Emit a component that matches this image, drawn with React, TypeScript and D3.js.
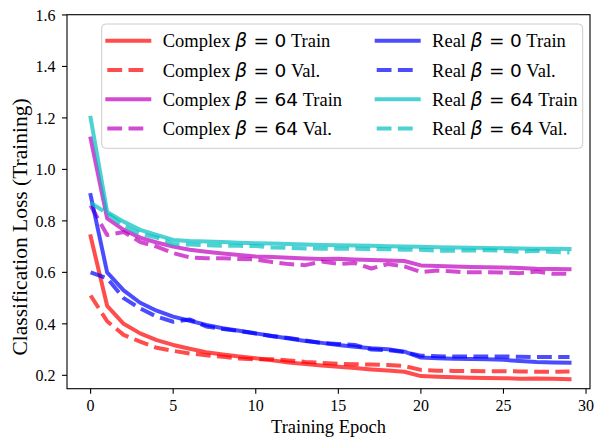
import React from "react";
import * as d3 from "d3";

const epochs = [0,1,2,3,4,5,6,7,8,9,10,11,12,13,14,15,16,17,18,19,20,21,22,23,24,25,26,27,28,29];

const complex0Train = [0.74,0.47,0.40,0.363,0.337,0.318,0.303,0.29,0.281,0.273,0.266,0.258,0.25,0.244,0.238,0.233,0.228,0.223,0.219,0.214,0.197,0.194,0.192,0.191,0.19,0.189,0.187,0.188,0.187,0.185];
const complex0Val = [0.51,0.41,0.357,0.331,0.307,0.295,0.285,0.278,0.272,0.265,0.262,0.262,0.258,0.252,0.248,0.245,0.243,0.242,0.24,0.236,0.221,0.218,0.217,0.217,0.216,0.216,0.215,0.214,0.214,0.215];
const complex64Train = [1.12,0.81,0.765,0.735,0.716,0.70,0.688,0.68,0.673,0.667,0.662,0.66,0.657,0.654,0.652,0.653,0.65,0.648,0.646,0.644,0.627,0.625,0.623,0.621,0.62,0.619,0.617,0.614,0.613,0.612];
const complex64Val = [0.86,0.745,0.757,0.718,0.70,0.675,0.658,0.655,0.655,0.652,0.65,0.64,0.632,0.628,0.642,0.633,0.636,0.615,0.632,0.623,0.601,0.607,0.603,0.6,0.601,0.599,0.597,0.603,0.595,0.594];
const real0Train = [0.90,0.60,0.53,0.482,0.451,0.428,0.412,0.396,0.383,0.373,0.363,0.353,0.343,0.333,0.326,0.318,0.311,0.305,0.301,0.292,0.269,0.266,0.264,0.263,0.262,0.26,0.256,0.252,0.25,0.249];
const real0Val = [0.60,0.577,0.50,0.46,0.428,0.408,0.417,0.39,0.38,0.372,0.362,0.352,0.345,0.335,0.325,0.322,0.318,0.30,0.298,0.29,0.276,0.274,0.273,0.273,0.273,0.273,0.272,0.271,0.271,0.271];
const real64Train = [1.20,0.835,0.797,0.765,0.745,0.726,0.722,0.72,0.718,0.715,0.713,0.712,0.71,0.708,0.706,0.705,0.704,0.703,0.701,0.70,0.699,0.698,0.697,0.696,0.695,0.694,0.693,0.692,0.692,0.691];
const real64Val = [0.87,0.83,0.78,0.75,0.735,0.71,0.708,0.705,0.703,0.703,0.702,0.697,0.695,0.693,0.692,0.692,0.692,0.691,0.69,0.688,0.688,0.684,0.684,0.685,0.686,0.684,0.68,0.684,0.679,0.677];

const seriesModels = ["Complex","Complex","Complex","Complex","Real","Real","Real","Real"];
const seriesBetas = ["0","0","64","64","0","0","64","64"];
const seriesSplits = ["Train","Val.","Train","Val.","Train","Val.","Train","Val."];
const seriesColors = ["#ff0000","#ff0000","#bf00bf","#bf00bf","#0000ff","#0000ff","#00bfbf","#00bfbf"];
const seriesValues = [complex0Train, complex0Val, complex64Train, complex64Val, real0Train, real0Val, real64Train, real64Val];

const xTicks = [0,5,10,15,20,25,30];
const yTicks = [0.2,0.4,0.6,0.8,1.0,1.2,1.4,1.6];

const W = 596, H = 439;
const L = 67, R = 590, T = 14.7, B = 388.7;
const serif = "'Liberation Serif', 'Times New Roman', serif";
const sans = "'DejaVu Sans', sans-serif";

export default function App() {
  const x = d3.scaleLinear().domain([-1.43, 30.24]).range([L, R]);
  const y = d3.scaleLinear().domain([0.148, 1.601]).range([B, T]);
  const line = d3.line<number>().x((_, i) => x(epochs[i])).y(d => y(d));

  const legX = [107.3, 376.7];
  const legY0 = 40.8, legDy = 29.2;

  return (
    <svg width={W} height={H} style={{ position: "absolute", left: 0, top: 0, background: "#fff" }}>
      <rect x={0} y={0} width={W} height={H} fill="#fff" />
      {seriesValues.map((vals, k) => {
        const dashed = seriesSplits[k] !== "Train";
        return (
          <path key={k} d={line(vals) || ""} fill="none" stroke={seriesColors[k]} strokeOpacity={0.7}
            strokeWidth={4} strokeLinejoin="round" strokeLinecap={dashed ? "butt" : "square"}
            strokeDasharray={dashed ? "14.8,6.4" : undefined} />
        );
      })}
      {/* axes frame */}
      <rect x={L} y={T} width={R - L} height={B - T} fill="none" stroke="#000" strokeWidth={1.1} />
      {xTicks.map(t => (
        <g key={"x" + t}>
          <line x1={x(t)} x2={x(t)} y1={B} y2={B + 5} stroke="#000" strokeWidth={1.1} />
          <text x={x(t)} y={410.5} textAnchor="middle" fontFamily={serif} fontSize={16}>{t}</text>
        </g>
      ))}
      {yTicks.map(t => (
        <g key={"y" + t}>
          <line x1={L - 5} x2={L} y1={y(t)} y2={y(t)} stroke="#000" strokeWidth={1.1} />
          <text x={55.5} y={y(t) + 6} textAnchor="end" fontFamily={serif} fontSize={16}>{t.toFixed(1)}</text>
        </g>
      ))}
      <text x={(L + R) / 2 + 0} y={433} textAnchor="middle" fontFamily={serif} fontSize={18.5}>Training Epoch</text>
      <text transform="translate(27,227) rotate(-90)" textAnchor="middle" fontFamily={serif} fontSize={21.5}>Classification Loss (Training)</text>
      {/* legend */}
      <rect x={101.7} y={24} width={481} height={124.3} rx={4} ry={4} fill="#fff" fillOpacity={0.8} stroke="#cccccc" strokeWidth={1} />
      {seriesValues.map((_, k) => {
        const col = Math.floor(k / 4), row = k % 4;
        const hx = legX[col], hy = legY0 + row * legDy;
        const dashed = seriesSplits[k] !== "Train";
        return (
          <g key={"l" + k}>
            <line x1={hx} x2={hx + 42} y1={hy} y2={hy} stroke={seriesColors[k]} strokeOpacity={0.7} strokeWidth={4}
              strokeLinecap={dashed ? "butt" : "square"} strokeDasharray={dashed ? "14.8,6.4" : undefined} />
            <text x={hx + 55.4} y={hy + 6.6} fontFamily={serif} fontSize={18.5} style={{ whiteSpace: "pre" }}>
              <tspan>{seriesModels[k] + " "}</tspan>
              <tspan fontFamily={sans} fontStyle="italic">β</tspan>
              <tspan fontFamily={sans} dx={6.5}>=</tspan>
              <tspan fontFamily={sans} dx={5.5}>{seriesBetas[k]}</tspan>
              <tspan>{" " + seriesSplits[k]}</tspan>
            </text>
          </g>
        );
      })}
    </svg>
  );
}
